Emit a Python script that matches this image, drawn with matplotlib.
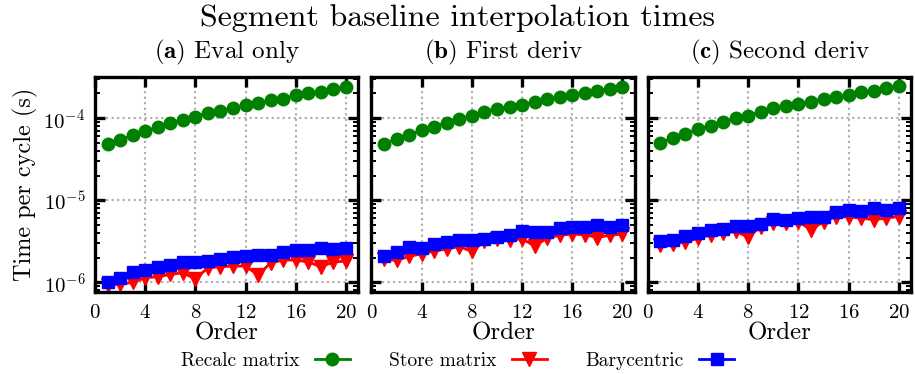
import numpy as np
import matplotlib
matplotlib.use('Agg')
import matplotlib.pyplot as plt
from matplotlib.ticker import LogLocator, FixedLocator

plt.rcParams['font.family'] = 'serif'
plt.rcParams['font.serif'] = ['cmr10']
plt.rcParams['mathtext.fontset'] = 'cm'
plt.rcParams['axes.formatter.use_mathtext'] = True
plt.rcParams['axes.unicode_minus'] = False

# polynomial order
order = list(range(1, 21))

# (a) Eval only
recalc_a = [4.87e-5, 5.48e-5, 6.19e-5, 6.93e-5, 7.76e-5, 8.77e-5, 9.53e-5, 1.04e-4, 1.16e-4, 1.23e-4,
            1.32e-4, 1.44e-4, 1.52e-4, 1.66e-4, 1.73e-4, 1.89e-4, 2.00e-4, 2.11e-4, 2.26e-4, 2.39e-4]
store_a = [0.93e-6, 0.95e-6, 1.00e-6, 1.14e-6, 1.17e-6, 1.25e-6, 1.31e-6, 1.10e-6, 1.51e-6, 1.55e-6,
           1.58e-6, 1.58e-6, 1.23e-6, 1.73e-6, 1.87e-6, 1.87e-6, 1.77e-6, 1.55e-6, 1.77e-6, 1.82e-6]
bary_a = [1.02e-6, 1.12e-6, 1.32e-6, 1.41e-6, 1.52e-6, 1.64e-6, 1.75e-6, 1.75e-6, 1.83e-6, 1.92e-6,
          2.02e-6, 2.09e-6, 2.15e-6, 2.13e-6, 2.36e-6, 2.50e-6, 2.50e-6, 2.60e-6, 2.53e-6, 2.60e-6]

# (b) First deriv
recalc_b = [4.86e-5, 5.59e-5, 6.25e-5, 7.14e-5, 7.90e-5, 8.84e-5, 9.89e-5, 1.06e-4, 1.20e-4, 1.31e-4,
            1.35e-4, 1.45e-4, 1.57e-4, 1.70e-4, 1.80e-4, 1.91e-4, 2.05e-4, 2.17e-4, 2.28e-4, 2.41e-4]
store_b = [1.92e-6, 1.85e-6, 2.07e-6, 2.23e-6, 2.40e-6, 2.56e-6, 2.73e-6, 2.38e-6, 3.15e-6, 3.37e-6,
           3.30e-6, 3.37e-6, 2.79e-6, 3.45e-6, 3.76e-6, 3.87e-6, 3.80e-6, 3.52e-6, 3.76e-6, 3.87e-6]
bary_b = [2.10e-6, 2.36e-6, 2.71e-6, 2.66e-6, 2.95e-6, 3.09e-6, 3.30e-6, 3.30e-6, 3.42e-6, 3.59e-6,
          3.80e-6, 4.17e-6, 4.06e-6, 4.10e-6, 4.62e-6, 4.70e-6, 4.70e-6, 5.07e-6, 4.75e-6, 4.99e-6]

# (c) Second deriv
recalc_c = [5.04e-5, 5.71e-5, 6.49e-5, 7.34e-5, 8.13e-5, 9.00e-5, 1.00e-4, 1.07e-4, 1.20e-4, 1.32e-4,
            1.40e-4, 1.49e-4, 1.59e-4, 1.70e-4, 1.82e-4, 1.92e-4, 2.07e-4, 2.17e-4, 2.30e-4, 2.43e-4]
store_c = [2.86e-6, 2.95e-6, 3.09e-6, 3.45e-6, 3.79e-6, 3.96e-6, 4.17e-6, 3.56e-6, 4.79e-6, 5.36e-6,
           5.36e-6, 5.50e-6, 4.36e-6, 5.50e-6, 6.34e-6, 6.25e-6, 6.07e-6, 5.80e-6, 6.07e-6, 6.34e-6]
bary_c = [3.21e-6, 3.27e-6, 3.69e-6, 4.05e-6, 4.36e-6, 4.53e-6, 4.84e-6, 4.84e-6, 5.21e-6, 5.90e-6,
          5.80e-6, 6.00e-6, 6.30e-6, 6.25e-6, 7.30e-6, 7.65e-6, 7.50e-6, 8.00e-6, 7.65e-6, 8.05e-6]

panel_letters = ['(a)', '(b)', '(c)']
panel_names = ['Eval only', 'First deriv', 'Second deriv']
series_names = ['Recalc matrix', 'Store matrix', 'Barycentric']
xticks = [0, 4, 8, 12, 16, 20]

fig = plt.figure(figsize=(9.15, 3.74), dpi=100)
lefts = [0.1038, 0.4060, 0.7080]
axes = [fig.add_axes([l, 0.220, 0.2880, 0.575]) for l in lefts]

data = [(recalc_a, store_a, bary_a), (recalc_b, store_b, bary_b), (recalc_c, store_c, bary_c)]
lines = []
for i, ax in enumerate(axes):
    rec, sto, bar = data[i]
    l1, = ax.plot(order, rec, color='green', marker='o', ms=9, lw=2, label=series_names[0])
    l2, = ax.plot(order, sto, color='red', marker='v', ms=10, lw=2, label=series_names[1])
    l3, = ax.plot(order, bar, color='blue', marker='s', ms=8.5, lw=2, label=series_names[2])
    lines = [l1, l2, l3]
    ax.set_yscale('log')
    ax.set_xlim(0, 21)
    ax.set_ylim(7.7e-7, 3.2e-4)
    ax.xaxis.set_major_locator(FixedLocator(xticks))
    ax.yaxis.set_major_locator(LogLocator(base=10, numticks=10))
    ax.yaxis.set_minor_locator(LogLocator(base=10, subs=np.arange(2, 10), numticks=10))
    ax.grid(True, which='major', color='#aaaaaa', linestyle=':', linewidth=1.5)
    for s in ax.spines.values():
        s.set_linewidth(2.4)
    ax.tick_params(which='major', direction='in', length=7, width=2.4, top=True, right=True,
                   labelsize=15, pad=7)
    ax.tick_params(axis='x', which='major', pad=9)
    ax.tick_params(which='minor', direction='in', length=3.5, width=1.4, left=True, right=True)
    ax.tick_params(axis='x', which='minor', bottom=False, top=False)
    if i > 0:
        ax.tick_params(axis='y', which='both', labelleft=False)
    ax.set_xlabel('Order', fontsize=18, labelpad=0)
    ax.set_title(r'$\mathbf{' + panel_letters[i] + r'}$ ' + panel_names[i], fontsize=18, pad=13)

axes[0].set_ylabel('Time per cycle (s)', fontsize=17.5, labelpad=4)
fig.suptitle('Segment baseline interpolation times', fontsize=23, y=0.99)
fig.legend(lines, series_names, loc='lower center', ncol=3, frameon=False, markerfirst=False,
           fontsize=14, bbox_to_anchor=(0.5, -0.035), handlelength=1.8, columnspacing=2.0)

fig.savefig('out.png', dpi=100)
